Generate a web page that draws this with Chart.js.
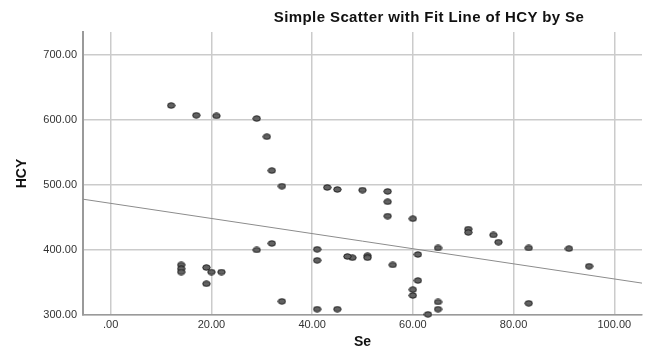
<!DOCTYPE html>
<html>
<head>
<meta charset="utf-8">
<script src="https://cdn.jsdelivr.net/npm/chart.js@4"></script>
<style>
  html, body { margin: 0; padding: 0; background: #fff; }
  #wrap { position: relative; width: 647px; height: 349px; }
  #title {
    position: absolute; top: 8px; left: 429px; transform: translateX(-50%);
    font: bold 15px "Liberation Sans", Arial, sans-serif; letter-spacing: 0.4px;
    color: #111; white-space: nowrap;
  }
</style>
</head>
<body>
<div id="wrap">
  <canvas id="chart" width="647" height="349"></canvas>
  <div id="title">Simple Scatter with Fit Line of HCY by Se</div>
</div>
<script>
// --- data ---
const seValues = [12, 17, 21, 29, 31, 32, 34, 43, 45, 50, 55, 55, 55, 60, 71, 71, 76, 77, 83, 91, 95,
                  83, 65, 65, 65, 63, 61, 61, 60, 60, 56, 51, 51, 48, 47, 41, 41, 41, 45, 34, 32, 29,
                  14, 14, 14, 19, 20, 22, 19];
const hcyValues = [622, 607, 606, 602, 574, 522, 498, 496, 493, 492, 490, 474, 452, 448, 432, 427, 423, 412, 403, 402, 375,
                   318, 403, 320, 309, 301, 393, 353, 339, 330, 377, 391, 388, 388, 390, 401, 384, 309, 309, 321, 410, 400,
                   377, 371, 366, 373, 366, 366, 348];

// fit line ends, as drawn at the plot edges
const fitSe = [-5.5, 105.5];
const fitHcy = [478, 349];

const xTicks = [0, 20, 40, 60, 80, 100];
const xTickLabels = ['.00', '20.00', '40.00', '60.00', '80.00', '100.00'];
const yTicks = [300, 400, 500, 600, 700];
const yTickLabels = ['300.00', '400.00', '500.00', '600.00', '700.00'];

// --- marker: small flat ellipse like the SPSS dots ---
function makeDot() {
    const c = document.createElement('canvas');
    c.width = 9; c.height = 7;
    const g = c.getContext('2d');
    g.beginPath();
    g.ellipse(4.5, 3.5, 3.7, 2.7, 0, 0, Math.PI * 2);
    g.fillStyle = '#626262';
    g.fill();
    g.lineWidth = 1;
    g.strokeStyle = '#1e1e1e';
    g.stroke();
    return c;
}

const points = seValues.map((s, i) => ({ x: s, y: hcyValues[i] }));
const fitPoints = fitSe.map((s, i) => ({ x: s, y: fitHcy[i] }));

const font = "'Liberation Sans', Arial, sans-serif";

new Chart(document.getElementById('chart').getContext('2d'), {
    type: 'scatter',
    data: {
        datasets: [
            {
                label: 'Fit',
                type: 'line',
                data: fitPoints,
                borderColor: '#8c8c8c',
                borderWidth: 1,
                pointRadius: 0,
                fill: false,
                order: 2
            },
            {
                label: 'HCY',
                data: points,
                pointStyle: makeDot(),
                pointRadius: 4,
                order: 1
            }
        ]
    },
    options: {
        responsive: false,
        animation: false,
        clip: false,
        layout: { padding: { top: 32, right: 4, left: 0, bottom: 0 } },
        plugins: {
            legend: { display: false },
            tooltip: { enabled: false },
            title: { display: false }
        },
        scales: {
            x: {
                type: 'linear',
                min: -5.5,
                max: 105.5,
                afterBuildTicks: s => { s.ticks = xTicks.map(v => ({ value: v })); },
                afterFit: s => { s.height = 34; },
                ticks: {
                    padding: 3,
                    color: '#333',
                    font: { family: font, size: 11 },
                    callback: (v) => xTickLabels[xTicks.indexOf(v)]
                },
                grid: { color: '#cbcbcb', lineWidth: 1.5, drawTicks: false },
                border: { display: true, color: '#9a9a9a', width: 1.5 },
                title: {
                    display: true,
                    text: 'Se',
                    color: '#111',
                    font: { family: font, size: 14, weight: 'bold', lineHeight: 1 },
                    padding: { top: 0, bottom: 0 }
                }
            },
            y: {
                type: 'linear',
                min: 300,
                max: 735,
                afterBuildTicks: s => { s.ticks = yTicks.map(v => ({ value: v })); },
                afterFit: s => { s.width = 83; },
                ticks: {
                    padding: 6,
                    color: '#333',
                    font: { family: font, size: 11 },
                    callback: (v) => yTickLabels[yTicks.indexOf(v)]
                },
                grid: { color: '#cbcbcb', lineWidth: 1.5, drawTicks: false },
                border: { display: true, color: '#9a9a9a', width: 2 },
                title: {
                    display: true,
                    text: 'HCY',
                    color: '#111',
                    font: { family: font, size: 14, weight: 'bold', lineHeight: 1.2 },
                    padding: { top: 14, bottom: 0 }
                }
            }
        }
    }
});
</script>
</body>
</html>
